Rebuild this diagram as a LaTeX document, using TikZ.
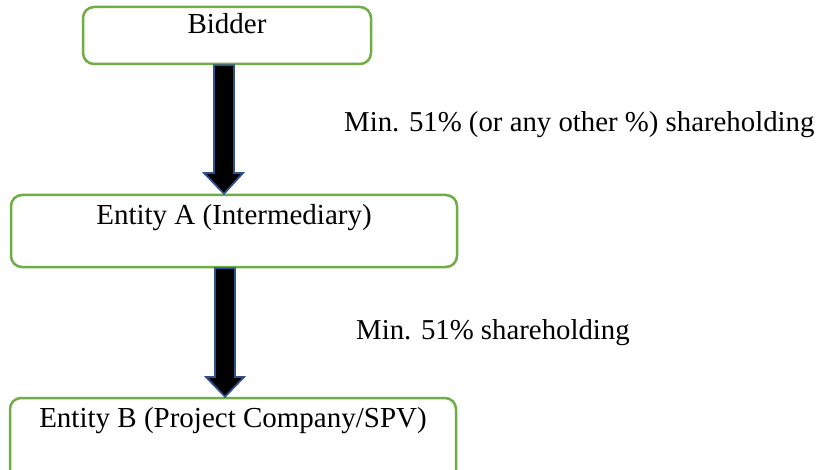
\documentclass[tikz,border=0pt]{standalone}
\usepackage{fontspec}
\setmainfont{Liberation Serif}
\definecolor{boxgreen}{HTML}{70AD47}
\definecolor{arrowblue}{HTML}{2F528F}
\tikzset{
  entbox/.style={draw=boxgreen, line width=2.5pt, rounded corners=11pt, fill=white,
    inner xsep=0pt, inner ysep=0pt, align=center, font=\fontsize{29}{33}\selectfont},
  blk/.style={fill=black, draw=arrowblue, line width=1.8pt, line join=miter},
  lbl/.style={anchor=base west, inner sep=0pt, font=\fontsize{28.8}{33}\selectfont}
}
\begin{document}
\begin{tikzpicture}[x=1pt,y=-1pt]
\useasboundingbox (0,0) rectangle (818,470);
\clip (0,0) rectangle (818,470);
\node[entbox, minimum width=288pt, text height=27pt, text depth=30pt, anchor=base] (bidder) at (227,34) {Bidder};
\node[entbox, minimum width=446pt, text height=30pt, text depth=42pt, anchor=base] (entA) at (234,225) {Entity A (Intermediary)};
\node[entbox, minimum width=446pt, text height=29pt, text depth=60pt, anchor=base] (entB) at (233,427) {Entity B (Project Company/SPV)};
\coordinate (tip1) at (224,0 |- entA.north);
\coordinate (tip2) at (225,0 |- entB.north);
\draw[blk] (214,0 |- bidder.south) -- (234,0 |- bidder.south) -- (234,173) -- (243,173) -- (tip1) -- (204,173) -- (214,173) -- cycle;
\draw[blk] (215,0 |- entA.south) -- (235,0 |- entA.south) -- (235,377) -- (244,377) -- (tip2) -- (206,377) -- (215,377) -- cycle;
\node[lbl] (l1) at (344,132) {Min. 51\% (or any other \%) shareholding};
\node[lbl] (l2) at (356,339) {Min. 51\% shareholding};
\end{tikzpicture}
\end{document}
